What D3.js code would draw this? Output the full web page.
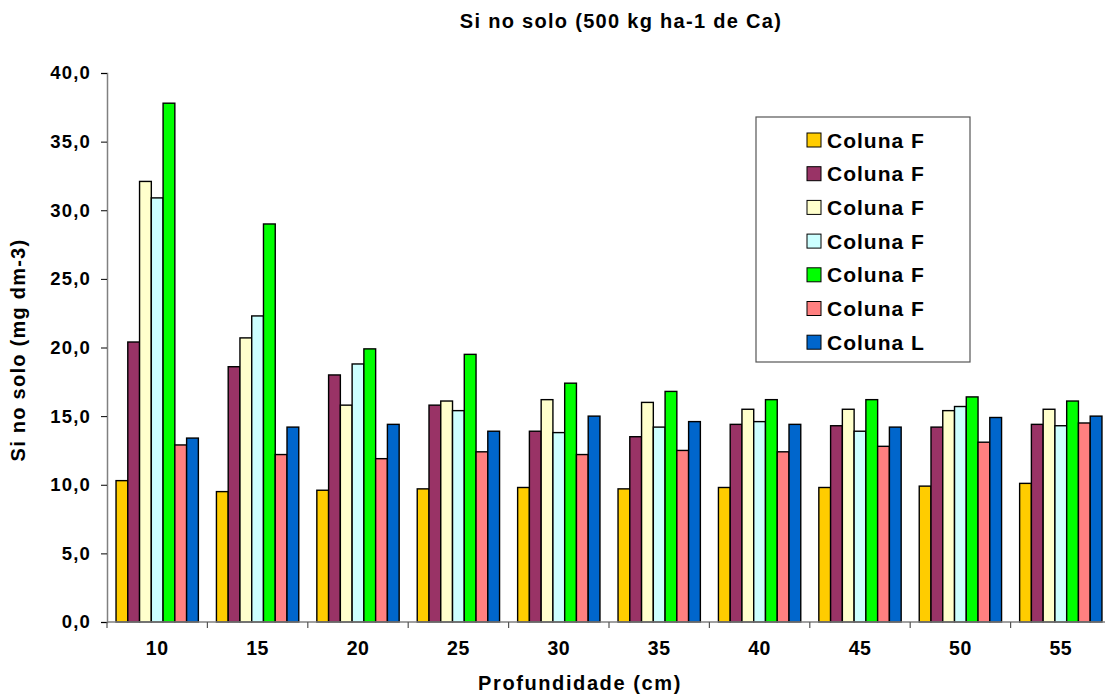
<!DOCTYPE html>
<html>
<head>
<meta charset="utf-8">
<script src="https://cdn.jsdelivr.net/npm/d3@7"></script>
<style>
  body { margin: 0; background: #fff; }
  svg { display: block; font-family: Arial, "Liberation Sans", sans-serif; font-weight: bold; }
</style>
</head>
<body>
<svg id="chart" width="1105" height="699"></svg>
<script>
// Depths (cm)
const categories = ["10", "15", "20", "25", "30", "35", "40", "45", "50", "55"];
// Series labels and colours
const seriesNames = ["Coluna F", "Coluna F", "Coluna F", "Coluna F", "Coluna F", "Coluna F", "Coluna L"];
const seriesColors = ["#FFCC00", "#993366", "#FFFFCC", "#CCFFFF", "#00FF00", "#FF8080", "#0066CC"];
// Si in soil (mg dm-3), one array per column
const colF1 = [10.3, 9.5, 9.6, 9.7, 9.8, 9.7, 9.8, 9.8, 9.9, 10.1];
const colF2 = [20.4, 18.6, 18.0, 15.8, 13.9, 13.5, 14.4, 14.3, 14.2, 14.4];
const colF3 = [32.1, 20.7, 15.8, 16.1, 16.2, 16.0, 15.5, 15.5, 15.4, 15.5];
const colF4 = [30.9, 22.3, 18.8, 15.4, 13.8, 14.2, 14.6, 13.9, 15.7, 14.3];
const colF5 = [37.8, 29.0, 19.9, 19.5, 17.4, 16.8, 16.2, 16.2, 16.4, 16.1];
const colF6 = [12.9, 12.2, 11.9, 12.4, 12.2, 12.5, 12.4, 12.8, 13.1, 14.5];
const colL  = [13.4, 14.2, 14.4, 13.9, 15.0, 14.6, 14.4, 14.2, 14.9, 15.0];
const seriesValues = [colF1, colF2, colF3, colF4, colF5, colF6, colL];
const yTicks = [0, 5, 10, 15, 20, 25, 30, 35, 40];

const svg = d3.select("#chart");
const plotLeft = 107, plotRight = 1111, plotTop = 73, plotBottom = 622;

const x0 = d3.scaleBand().domain(categories).range([plotLeft, plotRight])
  .paddingInner(0.18).paddingOuter(0.09);
const x1 = d3.scaleBand().domain(d3.range(seriesNames.length)).range([0, x0.bandwidth()]);
const y = d3.scaleLinear().domain([0, 40]).range([plotBottom, plotTop]);
const fmt = v => v.toFixed(1).replace(".", ",");

// Title
svg.append("text").attr("x", 621).attr("y", 28).attr("text-anchor", "middle")
  .attr("font-size", 20).attr("letter-spacing", 1.3)
  .text("Si no solo (500 kg ha-1 de Ca)");

// Bars
const groups = svg.append("g").selectAll("g").data(categories).join("g")
  .attr("transform", d => `translate(${x0(d)},0)`);
groups.selectAll("rect")
  .data((d, i) => seriesValues.map((vals, s) => ({ s, v: vals[i] })))
  .join("rect")
  .attr("x", d => x1(d.s))
  .attr("width", x1.bandwidth())
  .attr("y", d => y(d.v))
  .attr("height", d => y(0) - y(d.v))
  .attr("fill", d => seriesColors[d.s])
  .attr("stroke", "#000").attr("stroke-width", 1.4);

// Y axis
const yAxis = svg.append("g").attr("transform", `translate(${plotLeft},0)`)
  .call(d3.axisLeft(y).tickValues(yTicks).tickFormat(fmt).tickSize(6).tickPadding(10));
yAxis.select(".domain").attr("stroke", "#808080").attr("stroke-width", 1.5);
yAxis.selectAll(".tick line").attr("stroke", "#000");
yAxis.selectAll("text").attr("font-size", 18.5).attr("font-weight", "bold")
  .attr("font-family", "Arial, 'Liberation Sans', sans-serif").attr("letter-spacing", 1.2).attr("fill", "#000");

// X axis with ticks at group boundaries
const xAxisG = svg.append("g");
xAxisG.append("line").attr("x1", plotLeft).attr("x2", plotRight).attr("y1", plotBottom).attr("y2", plotBottom)
  .attr("stroke", "#808080").attr("stroke-width", 1.5);
const step = x0.step();
xAxisG.selectAll("line.tk").data(categories).join("line").attr("class", "tk")
  .attr("x1", d => x0(d) - x0.paddingOuter() * step).attr("x2", d => x0(d) - x0.paddingOuter() * step)
  .attr("y1", plotBottom).attr("y2", plotBottom + 6).attr("stroke", "#555").attr("stroke-width", 1.2);
xAxisG.selectAll("text").data(categories).join("text")
  .attr("x", d => x0(d) + x0.bandwidth() / 2).attr("y", 655)
  .attr("text-anchor", "middle").attr("font-size", 19.5).attr("letter-spacing", 0.5)
  .text(d => d);

// Axis titles
svg.append("text").attr("x", 580).attr("y", 690).attr("text-anchor", "middle")
  .attr("font-size", 20).attr("letter-spacing", 1.6).text("Profundidade (cm)");
svg.append("text").attr("transform", "translate(25,350) rotate(-90)").attr("text-anchor", "middle")
  .attr("font-size", 20).attr("letter-spacing", 1.25).text("Si no solo (mg dm-3)");

// Legend
const lg = svg.append("g").attr("transform", "translate(756,117)");
lg.append("rect").attr("width", 214).attr("height", 245)
  .attr("fill", "#fff").attr("stroke", "#555").attr("stroke-width", 1.2);
const items = lg.selectAll("g.item").data(seriesNames).join("g").attr("class", "item")
  .attr("transform", (d, i) => `translate(51,${23 + i * 33.7})`);
items.append("rect").attr("x", 0).attr("y", -7).attr("width", 14).attr("height", 14)
  .attr("fill", (d, i) => seriesColors[i]).attr("stroke", "#000").attr("stroke-width", 1);
items.append("text").attr("x", 20).attr("y", 7.5).attr("font-size", 21).attr("letter-spacing", 1)
  .text(d => d);
</script>
</body>
</html>
